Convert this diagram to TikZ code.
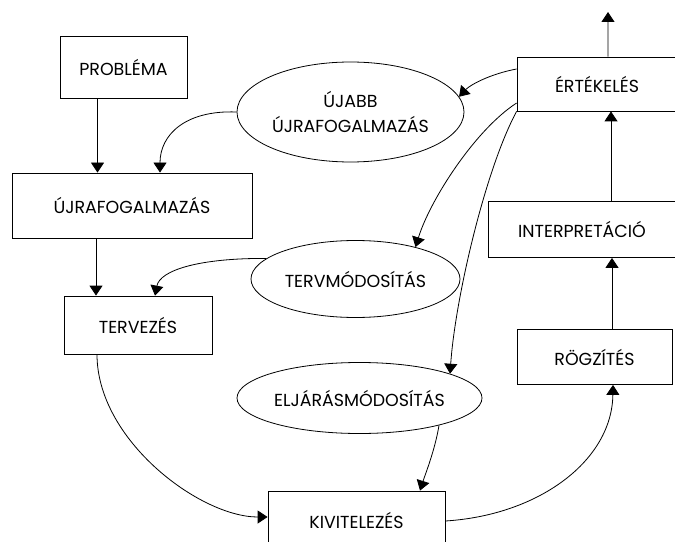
\documentclass[tikz,border=0pt]{standalone}
\usepackage{fontspec}
\setmainfont{Poppins}
\usetikzlibrary{arrows.meta,shapes.geometric,calc}
\begin{document}
\begin{tikzpicture}[x=1bp,y=-1bp,
  every node/.style={font=\fontsize{17.5}{21}\selectfont, inner sep=0pt},
  box/.style={draw, line width=0.8bp, rectangle},
  oval/.style={draw, line width=0.8bp, ellipse, align=center},
  arr/.style={line width=0.8bp, -{Triangle[length=10bp,width=13bp]}}]
\useasboundingbox (0,0) rectangle (675,542);
\node[box, minimum width=127bp, minimum height=62bp] (prob) at (123.5,67) {PROBLÉMA};
\node[box, minimum width=240bp, minimum height=65bp] (ujra) at (132,205.5) {ÚJRAFOGALMAZÁS};
\node[box, minimum width=148bp, minimum height=58bp] (terv) at (138,325) {TERVEZÉS};
\node[box, minimum width=177bp, minimum height=58bp] (kiv) at (356.5,520) {KIVITELEZÉS};
\node[box, minimum width=160bp, minimum height=54bp] (ert) at (597,84) {ÉRTÉKELÉS};
\node[box, minimum width=188bp, minimum height=56bp] (interp) at (582,229.5) {INTERPRETÁCIÓ};
\node[box, minimum width=155bp, minimum height=55bp] (rogz) at (594.5,357) {RÖGZÍTÉS};
\node[oval, minimum width=227bp, minimum height=100bp] (e1) at (350.5,112) {ÚJABB\\[5bp]ÚJRAFOGALMAZÁS};
\node[oval, minimum width=209bp, minimum height=77bp] (e2) at (355.5,279) {TERVMÓDOSÍTÁS};
\node[oval, minimum width=245bp, minimum height=71bp] (e3) at (359.5,398) {ELJÁRÁSMÓDOSÍTÁS};
\coordinate (top) at (608,12);
% straight arrows
\draw[arr] ([xshift=-26bp]prob.south) -- ([xshift=-26bp]prob.south |- ujra.north);
\draw[arr] ([xshift=-36bp]ujra.south) -- ([xshift=-36bp]ujra.south |- terv.north);
\draw[arr] ([xshift=17.5bp]rogz.north) -- ([xshift=17.5bp]rogz.north |- interp.south);
\draw[arr] ([xshift=29bp]interp.north) -- ([xshift=29bp]interp.north |- ert.south);
\draw[arr] ([xshift=11bp]ert.north) -- (top);
% curved arrows
\draw[arr] (e1.west) .. controls (185,110) and (160,135) .. ([xshift=28bp]ujra.north);
\draw[arr] (e2.167) .. controls (200,258) and (160,270) .. ([xshift=17bp]terv.north);
\draw[arr] ([xshift=-41bp]terv.south) .. controls (97,440) and (200,517) .. ([yshift=3bp]kiv.west);
\draw[arr] ([yshift=-1bp]kiv.east) .. controls (540,515) and (612,460) .. ([xshift=18.5bp]rogz.south);
\draw[arr] ([yshift=15bp]ert.west) .. controls (490,74) and (470,85) .. (e1.8);
\draw[arr] ([yshift=-19bp]ert.west) .. controls (475,130) and (430,200) .. (e2.28);
\draw[arr] (ert.south west) .. controls (485,170) and (455,300) .. (e3.15);
\draw[arr] (e3.-19) .. controls (435,450) and (425,475) .. ([xshift=63.5bp]kiv.north);
\end{tikzpicture}
\end{document}
